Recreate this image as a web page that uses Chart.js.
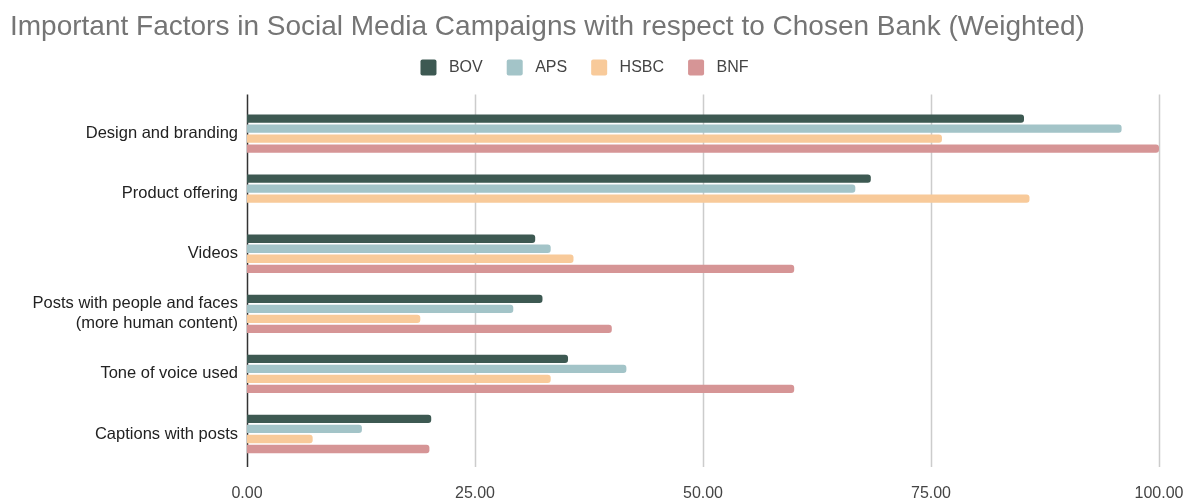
<!DOCTYPE html>
<html>
<head>
<meta charset="utf-8">
<script src="https://cdn.jsdelivr.net/npm/chart.js@4/dist/chart.umd.min.js"></script>
<style>
  html, body { margin: 0; padding: 0; background: #fff; }
  #wrap { width: 1198px; height: 501px; }
</style>
</head>
<body>
<div id="wrap"><canvas id="factorsChart"></canvas></div>
<script>
// Weighted scores per factor and bank
const factors = [
  'Design and branding',
  'Product offering',
  'Videos',
  ['Posts with people and faces', '(more human content)'],
  'Tone of voice used',
  'Captions with posts'
];
const bovScores  = [85.2, 68.4, 31.6, 32.4, 35.2, 20.2];
const apsScores  = [95.9, 66.7, 33.3, 29.2, 41.6, 12.6];
const hsbcScores = [76.2, 85.8, 35.8, 19.0, 33.3, 7.2];
const bnfScores  = [100, 0, 60.0, 40.0, 60.0, 20.0];
const xTicks = [0, 25, 50, 75, 100];

const bankColors = {
  BOV: '#3d5952',
  APS: '#a3c4c8',
  HSBC: '#f8ca9a',
  BNF: '#d69596'
};

function makeSet(label, data) {
  return {
    label: label,
    data: data,
    backgroundColor: bankColors[label],
    borderRadius: 3,
    borderSkipped: 'start',
    categoryPercentage: 0.667,
    barPercentage: 0.83
  };
}

// vertical grid lines run a little past the plot area, like the zero line
const gridPlugin = {
  id: 'gridLines',
  beforeDatasetsDraw(chart) {
    const ctx = chart.ctx;
    const x = chart.scales.x;
    const area = chart.chartArea;
    ctx.save();
    xTicks.forEach(function (v) {
      const px = Math.round(x.getPixelForValue(v)) + 0.5;
      ctx.beginPath();
      ctx.strokeStyle = v === 0 ? '#333333' : '#cccccc';
      ctx.lineWidth = 1.5;
      ctx.moveTo(px, area.top - 9);
      ctx.lineTo(px, area.bottom + 3);
      ctx.stroke();
    });
    ctx.restore();
  }
};

// extra room under the legend
const legendSpacer = {
  id: 'legendSpacer',
  beforeInit(chart) {
    const fit = chart.legend.fit;
    chart.legend.fit = function () {
      fit.bind(chart.legend)();
      this.height += 18;
    };
  }
};

const ctx = document.getElementById('factorsChart').getContext('2d');
const factorsChart = new Chart(ctx, {
  type: 'bar',
  data: {
    labels: factors,
    datasets: [
      makeSet('BOV', bovScores),
      makeSet('APS', apsScores),
      makeSet('HSBC', hsbcScores),
      makeSet('BNF', bnfScores)
    ]
  },
  options: {
    indexAxis: 'y',
    responsive: true,
    maintainAspectRatio: false,
    animation: false,
    layout: { padding: { left: 10, right: 39, top: 8, bottom: 0 } },
    plugins: {
      title: {
        display: true,
        text: 'Important Factors in Social Media Campaigns with respect to Chosen Bank (Weighted)',
        align: 'start',
        color: '#757575',
        font: { family: 'Arial, sans-serif', size: 28, weight: 'normal' },
        padding: { top: 2, bottom: -8 }
      },
      legend: {
        display: true,
        position: 'top',
        labels: {
          boxWidth: 16,
          boxHeight: 16,
          padding: 24,
          color: '#444444',
          font: { family: 'Arial, sans-serif', size: 16 },
          useBorderRadius: true,
          borderRadius: 2,
          generateLabels: function (chart) {
            const items = Chart.defaults.plugins.legend.labels.generateLabels(chart);
            items.forEach(function (it) { it.text = ' ' + it.text; });
            return items;
          }
        }
      },
      tooltip: { enabled: false }
    },
    scales: {
      x: {
        min: 0,
        max: 100,
        afterBuildTicks: function (scale) {
          scale.ticks = xTicks.map(function (v) { return { value: v }; });
        },
        afterFit: function (scale) {
          scale.height = 37;
          scale.paddingLeft = 0;
          scale.paddingRight = 0;
        },
        grid: { display: false, drawTicks: false },
        border: { display: false },
        ticks: {
          color: '#444444',
          font: { family: 'Arial, sans-serif', size: 16 },
          padding: 20,
          callback: function (v) { return Number(v).toFixed(2); }
        }
      },
      y: {
        afterFit: function (scale) { scale.width = 237; },
        grid: { display: false, drawTicks: false },
        border: { display: false },
        ticks: {
          color: '#222222',
          font: { family: 'Arial, sans-serif', size: 16.5 },
          padding: 9
        }
      }
    }
  },
  plugins: [gridPlugin, legendSpacer]
});
</script>
</body>
</html>
